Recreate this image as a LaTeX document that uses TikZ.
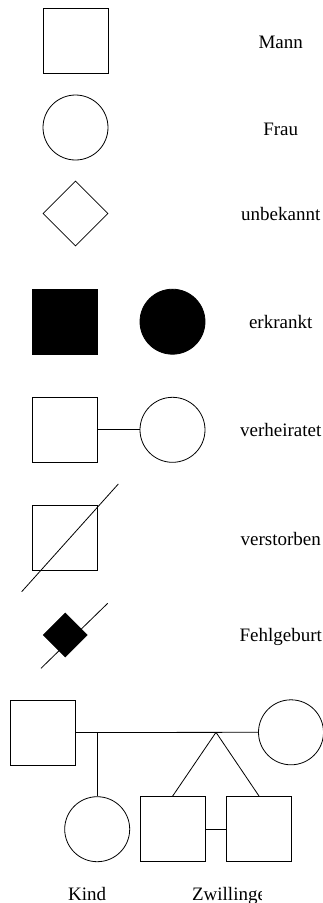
\documentclass[tikz,border=0pt]{standalone}
\usepackage{fontspec}
\setmainfont{Liberation Serif}
\usetikzlibrary{shapes.geometric}
\begin{document}
\begin{tikzpicture}[x=1pt,y=-1pt,
  line width=0.8pt,
  sq/.style={draw,rectangle,minimum size=65pt,inner sep=0pt},
  ci/.style={draw,circle,minimum size=65pt,inner sep=0pt},
  di/.style={draw,diamond,minimum size=65pt,inner sep=0pt},
  lbl/.style={anchor=base,inner sep=0pt,font=\fontsize{19}{22}\selectfont}]
\useasboundingbox (0,0) rectangle (323,903);
% Mann
\node[sq] (mann) at (75.5,40.5) {};
\node[lbl] (tmann) at (280.7,48.3) {Mann};
% Frau
\node[ci] (frau) at (75.5,127.5) {};
\node[lbl] (tfrau) at (280.7,135) {Frau};
% unbekannt
\node[di] (unb) at (75.5,213.5) {};
\node[lbl] (tunb) at (280.7,220.5) {unbekannt};
% erkrankt
\node[sq,fill=black] (em) at (64.7,321.7) {};
\node[ci,fill=black] (ef) at (172.5,321.7) {};
\node[lbl] (terk) at (280.7,328.5) {erkrankt};
% verheiratet
\node[sq] (vm) at (64.7,429.8) {};
\node[ci] (vf) at (172.5,429.8) {};
\draw (vm.east) -- (vf.west);
\node[lbl] (tver) at (280.7,436.7) {verheiratet};
% verstorben
\node[sq] (vs) at (64.7,537.5) {};
\coordinate (vsa) at (21.7,591.7);
\coordinate (vsb) at (118.3,484);
\draw (vsa) -- (vsb);
\node[lbl] (tvs) at (280.7,545) {verstorben};
% Fehlgeburt
\node[di,fill=black,minimum size=44pt] (fg) at (65.3,635) {};
\coordinate (fga) at (41,668.3);
\coordinate (fgb) at (107.7,603.3);
\draw (fga) -- (fgb);
\node[lbl] (tfg) at (280.7,641) {Fehlgeburt};
% Stammbaum
\node[sq] (pv) at (43.2,732.5) {};
\node[ci] (pm) at (291,732.3) {};
\draw (pv.east) -- (pm.west);
\node[ci] (kind) at (97.2,829.2) {};
\coordinate (kd) at (kind.north |- pv.east);
\draw (kd) -- (kind.north);
\node[sq] (z1) at (172.5,829.2) {};
\node[sq] (z2) at (259.2,829.2) {};
\coordinate (apex) at (216,732.3);
\draw (apex) -- (z1.north);
\draw (apex) -- (z2.north);
\draw (z1.east) -- (z2.west);
\node[lbl] (tkind) at (87.2,900) {Kind};
\begin{scope}
\clip (0,860) rectangle (261,903);
\node[lbl,anchor=base west] (tzw) at (191.7,900) {Zwillinge};
\end{scope}
\end{tikzpicture}
\end{document}
